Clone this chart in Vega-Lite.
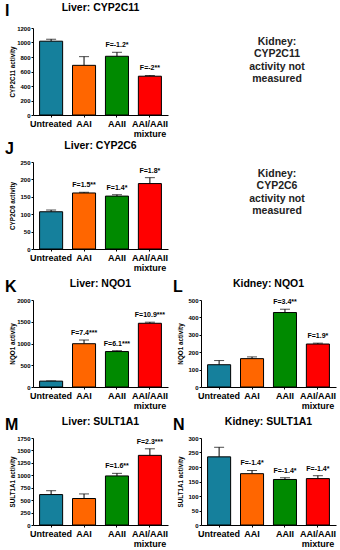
{
  "$schema": "https://vega.github.io/schema/vega-lite/v6.json",
  "padding": {"left": 5, "top": 2, "right": 0, "bottom": 0},
  "datasets": {
    "d": [
      {"p": "I", "g": "Untreated", "v": 1018, "hi": 1045, "lab": ""},
      {"p": "I", "g": "AAI", "v": 685, "hi": 805, "lab": ""},
      {"p": "I", "g": "AAII", "v": 810, "hi": 865, "lab": "F=-1.2*"},
      {"p": "I", "g": "AAI/AAII mixture", "v": 535, "hi": 545, "lab": "F=-2**"},
      {"p": "J", "g": "Untreated", "v": 107, "hi": 112, "lab": ""},
      {"p": "J", "g": "AAI", "v": 161, "hi": 163, "lab": "F=1.5**"},
      {"p": "J", "g": "AAII", "v": 152, "hi": 156, "lab": "F=1.4*"},
      {"p": "J", "g": "AAI/AAII mixture", "v": 188, "hi": 205, "lab": "F=1.8*"},
      {"p": "K", "g": "Untreated", "v": 135, "hi": 140, "lab": ""},
      {"p": "K", "g": "AAI", "v": 995, "hi": 1080, "lab": "F=7.4***"},
      {"p": "K", "g": "AAII", "v": 815, "hi": 835, "lab": "F=6.1***"},
      {"p": "K", "g": "AAI/AAII mixture", "v": 1465, "hi": 1490, "lab": "F=10.9***"},
      {"p": "L", "g": "Untreated", "v": 128, "hi": 152, "lab": ""},
      {"p": "L", "g": "AAI", "v": 163, "hi": 173, "lab": ""},
      {"p": "L", "g": "AAII", "v": 428, "hi": 447, "lab": "F=3.4**"},
      {"p": "L", "g": "AAI/AAII mixture", "v": 247, "hi": 252, "lab": "F=1.9*"},
      {"p": "M", "g": "Untreated", "v": 612, "hi": 690, "lab": ""},
      {"p": "M", "g": "AAI", "v": 533, "hi": 625, "lab": ""},
      {"p": "M", "g": "AAII", "v": 987, "hi": 1039, "lab": "F=1.6**"},
      {"p": "M", "g": "AAI/AAII mixture", "v": 1401, "hi": 1533, "lab": "F=2.3***"},
      {"p": "N", "g": "Untreated", "v": 235, "hi": 268, "lab": ""},
      {"p": "N", "g": "AAI", "v": 177, "hi": 188, "lab": "F=-1.4*"},
      {"p": "N", "g": "AAII", "v": 157, "hi": 163, "lab": "F=-1.4*"},
      {"p": "N", "g": "AAI/AAII mixture", "v": 160, "hi": 170, "lab": "F=-1.4*"}
    ]
  },
  "data": {"name": "d"},
  "spacing": 2,
  "config": {
    "font": "Liberation Sans",
    "view": {"stroke": null},
    "axis": {"domainColor": "black", "tickColor": "black", "labelColor": "black", "titleColor": "black", "grid": false, "domainWidth": 1, "tickWidth": 1},
    "axisY": {"labelFontSize": 6, "labelFontWeight": "bold", "labelOverlap": false, "labelFlush": false, "format": "d", "titleFontSize": 6.3, "titleFontWeight": "bold", "tickSize": 2, "labelPadding": 1, "minExtent": 14, "maxExtent": 14, "titlePadding": 4},
    "axisX": {"labelFontSize": 9, "labelFontWeight": "bold", "tickSize": 2, "labelPadding": 2, "labelAngle": 0, "labelLineHeight": 10},
    "title": {"fontSize": 10.5, "fontWeight": "bold", "color": "black", "offset": 8}
  },
  "vconcat": [
    {
      "spacing": 44,
      "hconcat": [
        {
          "title": {"text": "I", "anchor": "start", "frame": "bounds", "fontSize": 16, "offset": -16, "dx": -4},
          "vconcat": [
            {
              "width": 135, "height": 87,
              "title": {"text": "Liver: CYP2C11", "offset": 12},
              "transform": [{"filter": "datum.p == 'I'"}],
              "encoding": {"x": {"field": "g", "type": "nominal", "title": null, "sort": ["Untreated", "AAI", "AAII", "AAI/AAII mixture"], "scale": {"paddingInner": 0.3, "paddingOuter": 0.2}, "axis": {"labelExpr": "datum.label == 'AAI/AAII mixture' ? ['AAI/AAII', 'mixture'] : datum.label"}}},
              "layer": [
                {"mark": {"type": "rule", "color": "black"}, "encoding": {"y": {"field": "v", "type": "quantitative", "title": "CYP2C11 activity", "scale": {"domain": [0, 1200], "nice": false}, "axis": {"values": [0, 200, 400, 600, 800, 1000, 1200]}}, "y2": {"field": "hi"}}},
                {"mark": {"type": "tick", "color": "black", "size": 10, "thickness": 1}, "encoding": {"y": {"field": "hi", "type": "quantitative", "title": "CYP2C11 activity", "axis": {"values": [0, 200, 400, 600, 800, 1000, 1200]}}}},
                {"mark": {"type": "bar", "stroke": "black", "strokeWidth": 1}, "encoding": {"y": {"field": "v", "type": "quantitative", "title": "CYP2C11 activity", "axis": {"values": [0, 200, 400, 600, 800, 1000, 1200]}}, "color": {"field": "g", "type": "nominal", "legend": null, "scale": {"domain": ["Untreated", "AAI", "AAII", "AAI/AAII mixture"], "range": ["#15809c", "#ff6600", "#008a00", "#ff0000"]}}}},
                {"mark": {"type": "text", "baseline": "bottom", "dy": -4, "fontSize": 7, "fontWeight": "bold", "color": "black"}, "encoding": {"y": {"field": "hi", "type": "quantitative", "title": "CYP2C11 activity", "axis": {"values": [0, 200, 400, 600, 800, 1000, 1200]}}, "text": {"field": "lab"}}}
              ]
            }
          ]
        },
        {
          "width": 130, "height": 87,
          "data": {"values": [{"t": "Kidney:\nCYP2C11\nactivity not\nmeasured"}]},
          "mark": {"type": "text", "lineBreak": "\n", "fontSize": 10.5, "fontWeight": "bold", "color": "#222222", "lineHeight": 12.5, "align": "center", "baseline": "middle", "dy": -30},
          "encoding": {"text": {"field": "t"}}
        }
      ]
    },
    {
      "spacing": 6,
      "vconcat": [
        {
          "spacing": 44,
          "hconcat": [
            {
              "title": {"text": "J", "anchor": "start", "frame": "bounds", "fontSize": 16, "offset": -16, "dx": -4},
              "vconcat": [
                {
                  "width": 135, "height": 87,
                  "title": "Liver: CYP2C6",
                  "transform": [{"filter": "datum.p == 'J'"}],
                  "encoding": {"x": {"field": "g", "type": "nominal", "title": null, "sort": ["Untreated", "AAI", "AAII", "AAI/AAII mixture"], "scale": {"paddingInner": 0.3, "paddingOuter": 0.2}, "axis": {"labelExpr": "datum.label == 'AAI/AAII mixture' ? ['AAI/AAII', 'mixture'] : datum.label"}}},
                  "layer": [
                    {"mark": {"type": "rule", "color": "black"}, "encoding": {"y": {"field": "v", "type": "quantitative", "title": "CYP2C6 activity", "scale": {"domain": [0, 250], "nice": false}, "axis": {"values": [0, 50, 100, 150, 200, 250]}}, "y2": {"field": "hi"}}},
                    {"mark": {"type": "tick", "color": "black", "size": 10, "thickness": 1}, "encoding": {"y": {"field": "hi", "type": "quantitative", "title": "CYP2C6 activity", "axis": {"values": [0, 50, 100, 150, 200, 250]}}}},
                    {"mark": {"type": "bar", "stroke": "black", "strokeWidth": 1}, "encoding": {"y": {"field": "v", "type": "quantitative", "title": "CYP2C6 activity", "axis": {"values": [0, 50, 100, 150, 200, 250]}}, "color": {"field": "g", "type": "nominal", "legend": null, "scale": {"domain": ["Untreated", "AAI", "AAII", "AAI/AAII mixture"], "range": ["#15809c", "#ff6600", "#008a00", "#ff0000"]}}}},
                    {"mark": {"type": "text", "baseline": "bottom", "dy": -4, "fontSize": 7, "fontWeight": "bold", "color": "black"}, "encoding": {"y": {"field": "hi", "type": "quantitative", "title": "CYP2C6 activity", "axis": {"values": [0, 50, 100, 150, 200, 250]}}, "text": {"field": "lab"}}}
                  ]
                }
              ]
            },
            {
              "width": 130, "height": 87,
              "data": {"values": [{"t": "Kidney:\nCYP2C6\nactivity not\nmeasured"}]},
              "mark": {"type": "text", "lineBreak": "\n", "fontSize": 10.5, "fontWeight": "bold", "color": "#222222", "lineHeight": 12.5, "align": "center", "baseline": "middle", "dy": -32},
              "encoding": {"text": {"field": "t"}}
            }
          ]
        },
        {
          "spacing": 5,
          "hconcat": [
            {
              "title": {"text": "K", "anchor": "start", "frame": "bounds", "fontSize": 16, "offset": -16, "dx": -4},
              "vconcat": [
                {
                  "width": 135, "height": 87,
                  "title": "Liver: NQO1",
                  "transform": [{"filter": "datum.p == 'K'"}],
                  "encoding": {"x": {"field": "g", "type": "nominal", "title": null, "sort": ["Untreated", "AAI", "AAII", "AAI/AAII mixture"], "scale": {"paddingInner": 0.3, "paddingOuter": 0.2}, "axis": {"labelExpr": "datum.label == 'AAI/AAII mixture' ? ['AAI/AAII', 'mixture'] : datum.label"}}},
                  "layer": [
                    {"mark": {"type": "rule", "color": "black"}, "encoding": {"y": {"field": "v", "type": "quantitative", "title": "NQO1 activity", "scale": {"domain": [0, 2000], "nice": false}, "axis": {"values": [0, 500, 1000, 1500, 2000]}}, "y2": {"field": "hi"}}},
                    {"mark": {"type": "tick", "color": "black", "size": 10, "thickness": 1}, "encoding": {"y": {"field": "hi", "type": "quantitative", "title": "NQO1 activity", "axis": {"values": [0, 500, 1000, 1500, 2000]}}}},
                    {"mark": {"type": "bar", "stroke": "black", "strokeWidth": 1}, "encoding": {"y": {"field": "v", "type": "quantitative", "title": "NQO1 activity", "axis": {"values": [0, 500, 1000, 1500, 2000]}}, "color": {"field": "g", "type": "nominal", "legend": null, "scale": {"domain": ["Untreated", "AAI", "AAII", "AAI/AAII mixture"], "range": ["#15809c", "#ff6600", "#008a00", "#ff0000"]}}}},
                    {"mark": {"type": "text", "baseline": "bottom", "dy": -4, "fontSize": 7, "fontWeight": "bold", "color": "black"}, "encoding": {"y": {"field": "hi", "type": "quantitative", "title": "NQO1 activity", "axis": {"values": [0, 500, 1000, 1500, 2000]}}, "text": {"field": "lab"}}}
                  ]
                }
              ]
            },
            {
              "title": {"text": "L", "anchor": "start", "frame": "bounds", "fontSize": 16, "offset": -16, "dx": -4},
              "vconcat": [
                {
                  "width": 135, "height": 87,
                  "title": "Kidney: NQO1",
                  "transform": [{"filter": "datum.p == 'L'"}],
                  "encoding": {"x": {"field": "g", "type": "nominal", "title": null, "sort": ["Untreated", "AAI", "AAII", "AAI/AAII mixture"], "scale": {"paddingInner": 0.3, "paddingOuter": 0.2}, "axis": {"labelExpr": "datum.label == 'AAI/AAII mixture' ? ['AAI/AAII', 'mixture'] : datum.label"}}},
                  "layer": [
                    {"mark": {"type": "rule", "color": "black"}, "encoding": {"y": {"field": "v", "type": "quantitative", "title": "NQO1 activity", "scale": {"domain": [0, 500], "nice": false}, "axis": {"values": [0, 100, 200, 300, 400, 500]}}, "y2": {"field": "hi"}}},
                    {"mark": {"type": "tick", "color": "black", "size": 10, "thickness": 1}, "encoding": {"y": {"field": "hi", "type": "quantitative", "title": "NQO1 activity", "axis": {"values": [0, 100, 200, 300, 400, 500]}}}},
                    {"mark": {"type": "bar", "stroke": "black", "strokeWidth": 1}, "encoding": {"y": {"field": "v", "type": "quantitative", "title": "NQO1 activity", "axis": {"values": [0, 100, 200, 300, 400, 500]}}, "color": {"field": "g", "type": "nominal", "legend": null, "scale": {"domain": ["Untreated", "AAI", "AAII", "AAI/AAII mixture"], "range": ["#15809c", "#ff6600", "#008a00", "#ff0000"]}}}},
                    {"mark": {"type": "text", "baseline": "bottom", "dy": -4, "fontSize": 7, "fontWeight": "bold", "color": "black"}, "encoding": {"y": {"field": "hi", "type": "quantitative", "title": "NQO1 activity", "axis": {"values": [0, 100, 200, 300, 400, 500]}}, "text": {"field": "lab"}}}
                  ]
                }
              ]
            }
          ]
        },
        {
          "spacing": 5,
          "hconcat": [
            {
              "title": {"text": "M", "anchor": "start", "frame": "bounds", "fontSize": 16, "offset": -16, "dx": -4},
              "vconcat": [
                {
                  "width": 135, "height": 87,
                  "title": "Liver: SULT1A1",
                  "transform": [{"filter": "datum.p == 'M'"}],
                  "encoding": {"x": {"field": "g", "type": "nominal", "title": null, "sort": ["Untreated", "AAI", "AAII", "AAI/AAII mixture"], "scale": {"paddingInner": 0.3, "paddingOuter": 0.2}, "axis": {"labelExpr": "datum.label == 'AAI/AAII mixture' ? ['AAI/AAII', 'mixture'] : datum.label"}}},
                  "layer": [
                    {"mark": {"type": "rule", "color": "black"}, "encoding": {"y": {"field": "v", "type": "quantitative", "title": "SULT1A1 activity", "scale": {"domain": [0, 1750], "nice": false}, "axis": {"values": [0, 250, 500, 750, 1000, 1250, 1500, 1750]}}, "y2": {"field": "hi"}}},
                    {"mark": {"type": "tick", "color": "black", "size": 10, "thickness": 1}, "encoding": {"y": {"field": "hi", "type": "quantitative", "title": "SULT1A1 activity", "axis": {"values": [0, 250, 500, 750, 1000, 1250, 1500, 1750]}}}},
                    {"mark": {"type": "bar", "stroke": "black", "strokeWidth": 1}, "encoding": {"y": {"field": "v", "type": "quantitative", "title": "SULT1A1 activity", "axis": {"values": [0, 250, 500, 750, 1000, 1250, 1500, 1750]}}, "color": {"field": "g", "type": "nominal", "legend": null, "scale": {"domain": ["Untreated", "AAI", "AAII", "AAI/AAII mixture"], "range": ["#15809c", "#ff6600", "#008a00", "#ff0000"]}}}},
                    {"mark": {"type": "text", "baseline": "bottom", "dy": -4, "fontSize": 7, "fontWeight": "bold", "color": "black"}, "encoding": {"y": {"field": "hi", "type": "quantitative", "title": "SULT1A1 activity", "axis": {"values": [0, 250, 500, 750, 1000, 1250, 1500, 1750]}}, "text": {"field": "lab"}}}
                  ]
                }
              ]
            },
            {
              "title": {"text": "N", "anchor": "start", "frame": "bounds", "fontSize": 16, "offset": -16, "dx": -4},
              "vconcat": [
                {
                  "width": 135, "height": 87,
                  "title": "Kidney: SULT1A1",
                  "transform": [{"filter": "datum.p == 'N'"}],
                  "encoding": {"x": {"field": "g", "type": "nominal", "title": null, "sort": ["Untreated", "AAI", "AAII", "AAI/AAII mixture"], "scale": {"paddingInner": 0.3, "paddingOuter": 0.2}, "axis": {"labelExpr": "datum.label == 'AAI/AAII mixture' ? ['AAI/AAII', 'mixture'] : datum.label"}}},
                  "layer": [
                    {"mark": {"type": "rule", "color": "black"}, "encoding": {"y": {"field": "v", "type": "quantitative", "title": "SULT1A1 activity", "scale": {"domain": [0, 300], "nice": false}, "axis": {"values": [0, 50, 100, 150, 200, 250, 300]}}, "y2": {"field": "hi"}}},
                    {"mark": {"type": "tick", "color": "black", "size": 10, "thickness": 1}, "encoding": {"y": {"field": "hi", "type": "quantitative", "title": "SULT1A1 activity", "axis": {"values": [0, 50, 100, 150, 200, 250, 300]}}}},
                    {"mark": {"type": "bar", "stroke": "black", "strokeWidth": 1}, "encoding": {"y": {"field": "v", "type": "quantitative", "title": "SULT1A1 activity", "axis": {"values": [0, 50, 100, 150, 200, 250, 300]}}, "color": {"field": "g", "type": "nominal", "legend": null, "scale": {"domain": ["Untreated", "AAI", "AAII", "AAI/AAII mixture"], "range": ["#15809c", "#ff6600", "#008a00", "#ff0000"]}}}},
                    {"mark": {"type": "text", "baseline": "bottom", "dy": -4, "fontSize": 7, "fontWeight": "bold", "color": "black"}, "encoding": {"y": {"field": "hi", "type": "quantitative", "title": "SULT1A1 activity", "axis": {"values": [0, 50, 100, 150, 200, 250, 300]}}, "text": {"field": "lab"}}}
                  ]
                }
              ]
            }
          ]
        }
      ]
    }
  ]
}
